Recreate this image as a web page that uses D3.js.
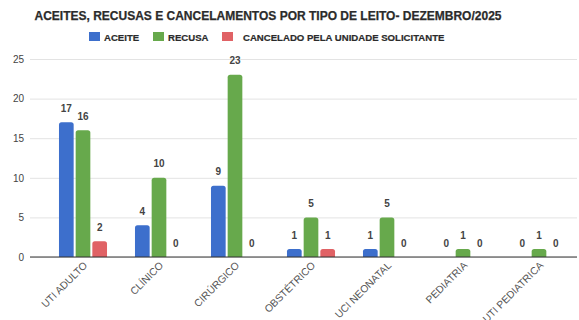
<!DOCTYPE html>
<html>
<head>
<meta charset="utf-8">
<script src="https://cdn.jsdelivr.net/npm/d3@7"></script>
<style>
  html, body { margin: 0; padding: 0; background: #fff; }
  svg { display: block; font-family: "Liberation Sans", Arial, sans-serif; }
</style>
</head>
<body>
<svg id="chart" width="579" height="320"></svg>
<script>
// Bed types (categories)
const categories = ["UTI ADULTO", "CLÍNICO", "CIRÚRGICO", "OBSTÉTRICO", "UCI NEONATAL", "PEDIATRIA", "UTI PEDIATRICA"];
// Series values per bed type
const aceite    = [17, 4, 9, 1, 1, 0, 0];
const recusa    = [16, 10, 23, 5, 5, 1, 1];
const cancelado = [2, 0, 0, 1, 0, 0, 0];
const seriesNames = ["ACEITE", "RECUSA", "CANCELADO PELA UNIDADE SOLICITANTE"];
const seriesColors = ["#3d6fcc", "#67a94c", "#e06265"];
const yTicks = [0, 5, 10, 15, 20, 25];
const title = "ACEITES, RECUSAS E CANCELAMENTOS POR TIPO DE LEITO- DEZEMBRO/2025";

const seriesValues = [aceite, recusa, cancelado];
const rows = categories.map((c, i) => ({ cat: c, vals: seriesValues.map(s => s[i]) }));

const svg = d3.select("#chart");
const plotL = 30, plotR = 577, plotTop = 59, plotBottom = 257;

const x0 = d3.scaleBand().domain(categories).range([45, plotR]).paddingInner(0.368).paddingOuter(0.184);
const x1 = d3.scaleBand().domain(d3.range(3)).range([0, x0.bandwidth()]).paddingInner(0.12);
const y = d3.scaleLinear().domain([0, 25]).range([plotBottom, plotTop]);

// Title
svg.append("text")
  .attr("x", 268).attr("y", 19.5)
  .attr("text-anchor", "middle")
  .attr("font-size", 12).attr("font-weight", "bold").attr("fill", "#2b2b2b")
  .attr("stroke", "#2b2b2b").attr("stroke-width", 0.25)
  .text(title);

// Legend
const legendItems = [
  { x: 89, tx: 104 },
  { x: 153, tx: 168 },
  { x: 222, tx: 243 }
];
const legend = svg.append("g");
legendItems.forEach((it, i) => {
  legend.append("rect").attr("x", it.x).attr("y", 32).attr("width", 11).attr("height", 9)
    .attr("fill", seriesColors[i]);
  legend.append("text").attr("x", it.tx).attr("y", 40.5)
    .attr("font-size", 9.6).attr("font-weight", "bold").attr("fill", "#2b2b2b")
    .attr("stroke", "#2b2b2b").attr("stroke-width", 0.2)
    .text(seriesNames[i]);
});

// Gridlines and y axis labels
const yAxis = d3.axisLeft(y).tickValues(yTicks).tickSize(-(plotR - plotL)).tickPadding(6);
const gy = svg.append("g").attr("transform", `translate(${plotL},0)`).call(yAxis);
gy.select(".domain").remove();
gy.selectAll(".tick line").attr("stroke", "#e3e3e3");
gy.selectAll(".tick text").attr("font-size", 10).attr("fill", "#444").attr("font-family", "Liberation Sans, Arial, sans-serif");

// Bars
const groups = svg.append("g").selectAll("g").data(rows).join("g")
  .attr("transform", d => `translate(${x0(d.cat)},0)`);

groups.selectAll("path").data(d => d.vals.map((v, i) => ({ v, i }))).join("path")
  .filter(d => d.v > 0)
  .attr("fill", d => seriesColors[d.i])
  .attr("d", d => {
    const bx = x1(d.i), bw = x1.bandwidth(), top = y(d.v), r = 2.5;
    return `M${bx},${plotBottom}V${top + r}Q${bx},${top} ${bx + r},${top}H${bx + bw - r}Q${bx + bw},${top} ${bx + bw},${top + r}V${plotBottom}Z`;
  });

// Value labels
groups.selectAll("text.val").data(d => d.vals.map((v, i) => ({ v, i }))).join("text")
  .attr("class", "val")
  .attr("x", d => x1(d.i) + x1.bandwidth() / 2)
  .attr("y", d => y(d.v) - 10.5)
  .attr("text-anchor", "middle")
  .attr("font-size", 10).attr("font-weight", "bold").attr("fill", "#444")
  .text(d => d.v);

// X axis baseline
svg.append("line").attr("x1", plotL).attr("x2", plotR).attr("y1", plotBottom).attr("y2", plotBottom)
  .attr("stroke", "#333").attr("stroke-width", 1);

// Category labels
svg.append("g").selectAll("text").data(categories).join("text")
  .attr("transform", d => `translate(${x0(d) + x0.bandwidth() / 2 + 5},${plotBottom + 9}) rotate(-45)`)
  .attr("text-anchor", "end")
  .attr("font-size", 10.3).attr("fill", "#555")
  .text(d => d);
</script>
</body>
</html>
